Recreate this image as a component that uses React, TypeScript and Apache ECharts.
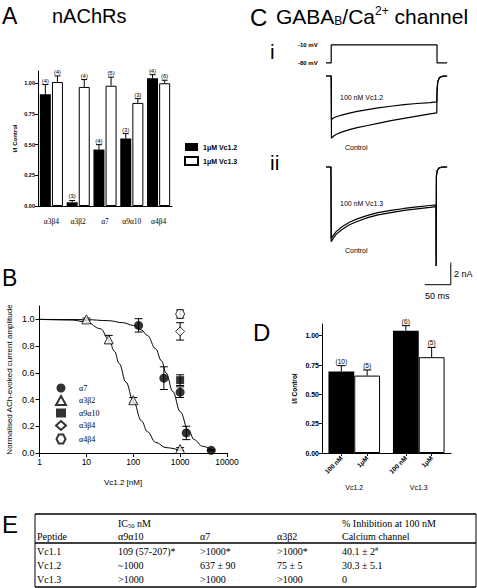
import React, { useEffect, useRef } from 'react';
import * as echarts from 'echarts';

// ---------- Panel A : nAChRs ----------
const aReceptors = ['α3β4', 'α3β2', 'α7', 'α9α10', 'α4β4'];
const aVc12Mean = [0.91, 0.03, 0.46, 0.55, 1.04];
const aVc12Sem = [0.08, 0.015, 0.04, 0.04, 0.03];
const aVc12N = [4, 3, 4, 3, 4];
const aVc13Mean = [1.01, 0.97, 0.98, 0.84, 1.0];
const aVc13Sem = [0.05, 0.06, 0.07, 0.035, 0.025];
const aVc13N = [4, 4, 5, 3, 6];
const aTicks = [0, 0.25, 0.5, 0.75, 1.0];

// ---------- Panel B : concentration-response ----------
const bA7Conc = [130, 450, 1000, 1350, 4600];
const bA7Resp = [0.955, 0.56, 0.455, 0.15, 0.02];
const bA7Err = [0.05, 0.085, 0.04, 0.05, 0.005];
const bA3b2Conc = [10, 30, 100, 1000];
const bA3b2Resp = [1.0, 0.85, 0.395, 0.03];
const bA3b2Err = [0.01, 0.03, 0.02, 0.01];
const bA9a10Conc = [1000];
const bA9a10Resp = [0.545];
const bA9a10Err = [0.04];
const bA3b4Conc = [1000];
const bA3b4Resp = [0.91];
const bA3b4Err = [0.065];
const bA4b4Conc = [1000];
const bA4b4Resp = [1.04];
const bA4b4Err = [0.03];
const bA7FitConc = [1, 10, 30, 60, 100, 150, 200, 300, 400, 500, 700, 1000, 1500, 2000, 3000, 5000];
const bA7FitResp = [1.0, 0.998, 0.99, 0.975, 0.955, 0.92, 0.88, 0.78, 0.69, 0.6, 0.46, 0.31, 0.17, 0.1, 0.05, 0.02];
const bA3b2FitConc = [1, 5, 10, 20, 30, 40, 50, 70, 100, 150, 200, 300, 500, 1000];
const bA3b2FitResp = [1.0, 0.995, 0.98, 0.93, 0.85, 0.76, 0.67, 0.53, 0.39, 0.24, 0.16, 0.08, 0.04, 0.02];
const bYTicks = [0, 0.2, 0.4, 0.6, 0.8, 1.0];

// ---------- Panel C : GABAB / Ca2+ channel currents ----------
const cStepTime = [0, 10, 10, 213.5, 213.5, 233];
const cStepVolt = [-80, -80, -10, -10, -80, -80];
const cTraceITime = [0, 10, 10.5, 15, 20, 30, 45, 60, 80, 100, 125, 150, 175, 200, 213, 213.5, 215, 218, 224, 233];
const cTraceIControl = [0, 0, -5.65, -5.45, -5.3, -5.1, -4.88, -4.7, -4.5, -4.3, -4.05, -3.85, -3.65, -3.45, -3.36, -1.5, -0.5, -0.15, -0.02, 0];
const cTraceIVc12 = [0, 0, -3.95, -3.8, -3.7, -3.55, -3.38, -3.22, -3.05, -2.9, -2.75, -2.6, -2.5, -2.42, -2.36, -1.2, -0.5, -0.15, -0.02, 0];
const cTraceIITime = [0, 9.5, 10, 15, 20, 30, 45, 60, 80, 100, 125, 150, 175, 200, 211.5, 211.8, 212.3, 214, 217, 222, 233];
const cTraceIIControl = [0, 0, -6.8, -6.4, -6.1, -5.7, -5.25, -4.95, -4.6, -4.35, -4.15, -3.95, -3.8, -3.67, -3.6, -9.0, -0.8, -0.3, -0.1, -0.02, 0];
const cTraceIIVc13 = [0, 0, -6.5, -6.15, -5.85, -5.45, -5.02, -4.72, -4.4, -4.15, -3.95, -3.77, -3.62, -3.5, -3.45, -9.0, -0.8, -0.3, -0.1, -0.02, 0];
const cScaleTime = [190, 240, 240];
const cScaleCurrent = [-10.7, -10.7, -8.7];
const cVoltLabels = [-80, -10];

// ---------- Panel D ----------
const dPeptides = ['Vc1.2', 'Vc1.3'];
const d100nMMean = [0.695, 1.043];
const d100nMSem = [0.05, 0.043];
const d100nMN = [10, 6];
const d1uMMean = [0.66, 0.817];
const d1uMSem = [0.048, 0.083];
const d1uMN = [5, 5];
const dDoseLabelPos = [0.3, 0.7, 1.3, 1.7];

// ---------- Panel E : table ----------
const ePeptides = ['Vc1.1', 'Vc1.2', 'Vc1.3'];
const eA9a10 = ['109 (57-207)*', '~1000', '>1000'];
const eA7 = ['>1000*', '637 ± 90', '>1000'];
const eA3b2 = ['>1000*', '75 ± 5', '>1000'];
const eCaInhib = ['{t|40.1 ± 2}{s|#}', '{t|30.3 ± 5.1}', '{t|0}'];

const SANS = 'Liberation Sans, Arial, sans-serif';
const SERIF = 'Liberation Serif, Times New Roman, serif';

function zip2(a: number[], b: number[]) {
  return a.map((v, i) => [v, b[i]]);
}

function barErr(means: number[], sems: number[], ns: number[]) {
  return means.map((m, i) => [i, m, sems[i], ns[i]]);
}

function upErrRender(offsetFn: (api: any) => number, capHalf: number, fontSize: number) {
  return (params: any, api: any) => {
    const ci = api.value(0);
    const v = api.value(1);
    const e = api.value(2);
    const n = api.value(3);
    const base = api.coord([ci, v]);
    const top = api.coord([ci, v + e]);
    const x = base[0] + offsetFn(api);
    return {
      type: 'group',
      children: [
        { type: 'line', shape: { x1: x, y1: base[1], x2: x, y2: top[1] }, style: { stroke: '#000', lineWidth: 1 } },
        { type: 'line', shape: { x1: x - capHalf, y1: top[1], x2: x + capHalf, y2: top[1] }, style: { stroke: '#000', lineWidth: 1 } },
        {
          type: 'text',
          style: {
            x, y: top[1] - 1, text: '(' + n + ')', align: 'center', verticalAlign: 'bottom',
            fontSize, fontFamily: SANS, fill: '#000',
          },
        },
      ],
    };
  };
}

function symErrRender(params: any, api: any) {
  const x = api.value(0);
  const v = api.value(1);
  const e = api.value(2);
  const p0 = api.coord([x, v - e]);
  const p1 = api.coord([x, v + e]);
  const cap = 4;
  return {
    type: 'group',
    children: [
      { type: 'line', shape: { x1: p0[0], y1: p0[1], x2: p1[0], y2: p1[1] }, style: { stroke: '#000', lineWidth: 1 } },
      { type: 'line', shape: { x1: p0[0] - cap, y1: p0[1], x2: p0[0] + cap, y2: p0[1] }, style: { stroke: '#000', lineWidth: 1 } },
      { type: 'line', shape: { x1: p1[0] - cap, y1: p1[1], x2: p1[0] + cap, y2: p1[1] }, style: { stroke: '#000', lineWidth: 1 } },
    ],
  };
}

const HEX = 'path://M25,0 L75,0 L100,50 L75,100 L25,100 L0,50 Z';

function buildOption() {
  const axisLine = { show: true, lineStyle: { color: '#000', width: 1 } };

  const grid = [
    { left: 38, top: 71, width: 134, height: 135 }, // 0 A
    { left: 39.5, top: 306, width: 187.5, height: 147 }, // 1 B
    { left: 326, top: 42.4, width: 124.8, height: 23.1 }, // 2 C voltage
    { left: 326, top: 70.5, width: 124.8, height: 77 }, // 3 C i
    { left: 326, top: 161.5, width: 124.8, height: 126.5 }, // 4 C ii
    { left: 322, top: 324, width: 129, height: 129 }, // 5 D
  ];

  const hiddenValueX = (gi: number) => ({ type: 'value', gridIndex: gi, min: 0, max: 240, show: false });

  const xAxis: any[] = [
    {
      type: 'category', gridIndex: 0, data: aReceptors, axisLine, axisTick: { show: false },
      axisLabel: { color: '#000', fontFamily: SERIF, fontSize: 7.5, margin: 11 },
    },
    {
      type: 'log', gridIndex: 1, logBase: 10, min: 1, max: 10000, axisLine,
      axisTick: { show: true, length: 4, lineStyle: { color: '#000' } },
      minorTick: { show: false }, splitLine: { show: false },
      axisLabel: { color: '#000', fontFamily: SANS, fontSize: 8.5, margin: 4, formatter: (v: number) => String(Math.round(v)) },
    },
    hiddenValueX(2),
    hiddenValueX(3),
    hiddenValueX(4),
    {
      type: 'category', gridIndex: 5, data: dPeptides, axisLine, axisTick: { show: false },
      axisLabel: { color: '#000', fontFamily: SANS, fontSize: 7, margin: 31 },
    },
    {
      type: 'value', gridIndex: 5, min: 0, max: 2, position: 'bottom',
      axisLine: { show: false }, splitLine: { show: false },
      axisTick: { show: true, length: 3, customValues: dDoseLabelPos, lineStyle: { color: '#000' } },
      axisLabel: {
        customValues: dDoseLabelPos, rotate: 45, color: '#000', fontFamily: SANS, fontSize: 6.5,
        fontWeight: 'bold', margin: 4,
        formatter: (v: number) => (Math.abs((v % 1) - 0.3) < 0.05 ? '100 nM' : '1μM'),
      },
    },
  ];

  const yAxis: any[] = [
    {
      type: 'value', gridIndex: 0, min: 0, max: 1.1, axisLine, splitLine: { show: false },
      axisTick: { show: true, length: 3, customValues: aTicks, lineStyle: { color: '#000' } },
      axisLabel: {
        customValues: aTicks, color: '#000', fontFamily: SANS, fontSize: 5.5, fontWeight: 'bold', margin: 3,
        formatter: (v: number) => v.toFixed(2),
      },
      name: 'I/I Control', nameLocation: 'middle', nameGap: 20,
      nameTextStyle: { color: '#000', fontFamily: SANS, fontSize: 6, fontWeight: 'bold' },
    },
    {
      type: 'value', gridIndex: 1, min: 0, max: 1.1, axisLine, splitLine: { show: false },
      axisTick: { show: true, length: 4, customValues: bYTicks, lineStyle: { color: '#000' } },
      axisLabel: {
        customValues: bYTicks, color: '#000', fontFamily: SANS, fontSize: 9, margin: 5,
        formatter: (v: number) => v.toFixed(1),
      },
      name: 'Normalised ACh-evoked current amplitude', nameLocation: 'middle', nameGap: 26,
      nameTextStyle: { color: '#000', fontFamily: SANS, fontSize: 8 },
    },
    {
      type: 'value', gridIndex: 2, min: -90, max: 0, axisLine: { show: false }, axisTick: { show: false },
      splitLine: { show: false },
      axisLabel: {
        customValues: cVoltLabels, color: '#000', fontFamily: SANS, fontSize: 6, fontWeight: 'bold',
        margin: 28, align: 'left', formatter: (v: number) => v + ' mV',
      },
    },
    { type: 'value', gridIndex: 3, min: -6.5, max: 0.5, show: false },
    { type: 'value', gridIndex: 4, min: -11, max: 0.5, show: false },
    {
      type: 'value', gridIndex: 5, min: 0, max: 1.1, axisLine, splitLine: { show: false },
      axisTick: { show: true, length: 3, customValues: aTicks, lineStyle: { color: '#000' } },
      axisLabel: {
        customValues: aTicks, color: '#000', fontFamily: SANS, fontSize: 7, fontWeight: 'bold', margin: 3,
        formatter: (v: number) => v.toFixed(2),
      },
      name: 'I/I Control', nameLocation: 'middle', nameGap: 24,
      nameTextStyle: { color: '#000', fontFamily: SANS, fontSize: 6.5, fontWeight: 'bold' },
    },
  ];

  const black = { color: '#000' };
  const white = { color: '#fff', borderColor: '#000', borderWidth: 1 };
  const traceStyle = { color: '#000', width: 1.2 };

  const series: any[] = [
    // Panel A bars
    {
      type: 'bar', name: '1μM Vc1.2', xAxisIndex: 0, yAxisIndex: 0, data: aVc12Mean,
      barWidth: 11, barGap: '10%', itemStyle: black,
    },
    {
      type: 'bar', name: '1μM Vc1.3', xAxisIndex: 0, yAxisIndex: 0, data: aVc13Mean,
      barWidth: 11, barGap: '10%', itemStyle: white,
    },
    {
      type: 'custom', xAxisIndex: 0, yAxisIndex: 0, z: 5, data: barErr(aVc12Mean, aVc12Sem, aVc12N),
      renderItem: upErrRender(() => -6.05, 3, 6),
    },
    {
      type: 'custom', xAxisIndex: 0, yAxisIndex: 0, z: 5, data: barErr(aVc13Mean, aVc13Sem, aVc13N),
      renderItem: upErrRender(() => 6.05, 3, 6),
    },
    // Panel B fits
    {
      type: 'line', xAxisIndex: 1, yAxisIndex: 1, data: zip2(bA7FitConc, bA7FitResp), showSymbol: false,
      smooth: 0.4, smoothMonotone: 'x', lineStyle: { color: '#000', width: 1 }, z: 1,
    },
    {
      type: 'line', xAxisIndex: 1, yAxisIndex: 1, data: zip2(bA3b2FitConc, bA3b2FitResp), showSymbol: false,
      smooth: 0.4, smoothMonotone: 'x', lineStyle: { color: '#000', width: 1 }, z: 1,
    },
    // Panel B error bars
    ...[
      [bA7Conc, bA7Resp, bA7Err], [bA3b2Conc, bA3b2Resp, bA3b2Err], [bA9a10Conc, bA9a10Resp, bA9a10Err],
      [bA3b4Conc, bA3b4Resp, bA3b4Err], [bA4b4Conc, bA4b4Resp, bA4b4Err],
    ].map(([c, r, e]) => ({
      type: 'custom', xAxisIndex: 1, yAxisIndex: 1, z: 2,
      data: c.map((x: number, i: number) => [x, r[i], e[i]]), renderItem: symErrRender,
    })),
    // Panel B points
    {
      type: 'scatter', name: 'α7', xAxisIndex: 1, yAxisIndex: 1, data: zip2(bA7Conc, bA7Resp),
      symbol: 'circle', symbolSize: 9, itemStyle: black, z: 3,
    },
    {
      type: 'scatter', name: 'α3β2', xAxisIndex: 1, yAxisIndex: 1, data: zip2(bA3b2Conc, bA3b2Resp),
      symbol: 'triangle', symbolSize: 9, itemStyle: white, z: 3,
    },
    {
      type: 'scatter', name: 'α9α10', xAxisIndex: 1, yAxisIndex: 1, data: zip2(bA9a10Conc, bA9a10Resp),
      symbol: 'rect', symbolSize: 8, itemStyle: black, z: 3,
    },
    {
      type: 'scatter', name: 'α3β4', xAxisIndex: 1, yAxisIndex: 1, data: zip2(bA3b4Conc, bA3b4Resp),
      symbol: 'diamond', symbolSize: 9, itemStyle: white, z: 3,
    },
    {
      type: 'scatter', name: 'α4β4', xAxisIndex: 1, yAxisIndex: 1, data: zip2(bA4b4Conc, bA4b4Resp),
      symbol: HEX, symbolSize: 9, itemStyle: white, z: 3,
    },
    // Panel C
    {
      type: 'line', xAxisIndex: 2, yAxisIndex: 2, data: zip2(cStepTime, cStepVolt), showSymbol: false,
      lineStyle: traceStyle,
    },
    {
      type: 'line', xAxisIndex: 3, yAxisIndex: 3, data: zip2(cTraceITime, cTraceIControl), showSymbol: false,
      lineStyle: traceStyle,
    },
    {
      type: 'line', xAxisIndex: 3, yAxisIndex: 3, data: zip2(cTraceITime, cTraceIVc12), showSymbol: false,
      lineStyle: traceStyle,
    },
    {
      type: 'line', xAxisIndex: 4, yAxisIndex: 4, data: zip2(cTraceIITime, cTraceIIControl), showSymbol: false,
      lineStyle: traceStyle,
    },
    {
      type: 'line', xAxisIndex: 4, yAxisIndex: 4, data: zip2(cTraceIITime, cTraceIIVc13), showSymbol: false,
      lineStyle: traceStyle,
    },
    {
      type: 'line', xAxisIndex: 4, yAxisIndex: 4, data: zip2(cScaleTime, cScaleCurrent), showSymbol: false,
      lineStyle: { color: '#000', width: 1 },
    },
    // Panel D
    {
      type: 'bar', name: '100 nM', xAxisIndex: 5, yAxisIndex: 5, data: d100nMMean, barWidth: '40%', barGap: 0,
      itemStyle: black,
    },
    {
      type: 'bar', name: '1 μM', xAxisIndex: 5, yAxisIndex: 5, data: d1uMMean, barWidth: '40%', barGap: 0,
      itemStyle: white,
    },
    {
      type: 'custom', xAxisIndex: 5, yAxisIndex: 5, z: 5, data: barErr(d100nMMean, d100nMSem, d100nMN),
      renderItem: upErrRender((api: any) => -0.2 * api.size([1, 0])[0], 4, 6.5),
    },
    {
      type: 'custom', xAxisIndex: 5, yAxisIndex: 5, z: 5, data: barErr(d1uMMean, d1uMSem, d1uMN),
      renderItem: upErrRender((api: any) => 0.2 * api.size([1, 0])[0], 4, 6.5),
    },
  ];

  const txt = (x: number, y: number, text: string, fontSize: number, extra: any = {}) => ({
    type: 'text', x, y, silent: true,
    style: { text, fontSize, fontFamily: SANS, fill: '#000', ...extra },
  });

  // table
  const colX = [37, 118, 200, 277, 342];
  const rowY = [551, 565, 579];
  const tStyle = { fontFamily: SERIF, verticalAlign: 'middle' };
  const tableEls: any[] = [
    { type: 'line', shape: { x1: 35, y1: 514, x2: 476, y2: 514 }, style: { stroke: '#000', lineWidth: 1.5 } },
    { type: 'line', shape: { x1: 35, y1: 543, x2: 476, y2: 543 }, style: { stroke: '#000', lineWidth: 1.5 } },
    { type: 'line', shape: { x1: 35, y1: 587, x2: 476, y2: 587 }, style: { stroke: '#000', lineWidth: 1.5 } },
    { type: 'line', shape: { x1: 35, y1: 514, x2: 35, y2: 587 }, style: { stroke: '#000', lineWidth: 1 } },
    { type: 'line', shape: { x1: 476, y1: 514, x2: 476, y2: 587 }, style: { stroke: '#000', lineWidth: 1 } },
    txt(colX[1], 523, '{t|IC}{s|50}{t| nM}', 10, {
      ...tStyle,
      rich: {
        t: { fontFamily: SERIF, fontSize: 10, lineHeight: 12, verticalAlign: 'middle' },
        s: { fontFamily: SERIF, fontSize: 6.5, lineHeight: 6, verticalAlign: 'bottom' },
      },
    }),
    txt(colX[4], 523, '% Inhibition at 100 nM', 10, tStyle),
    txt(colX[0], 536, 'Peptide', 10, tStyle),
    txt(colX[1], 536, 'α9α10', 10, tStyle),
    txt(colX[2], 536, 'α7', 10, tStyle),
    txt(colX[3], 536, 'α3β2', 10, tStyle),
    txt(colX[4], 536, 'Calcium channel', 10, tStyle),
  ];
  ePeptides.forEach((p, i) => {
    tableEls.push(txt(colX[0], rowY[i], p, 10, tStyle));
    tableEls.push(txt(colX[1], rowY[i], eA9a10[i], 10, tStyle));
    tableEls.push(txt(colX[2], rowY[i], eA7[i], 10, tStyle));
    tableEls.push(txt(colX[3], rowY[i], eA3b2[i], 10, tStyle));
    tableEls.push(txt(colX[4], rowY[i], eCaInhib[i], 10, {
      ...tStyle,
      rich: {
        t: { fontFamily: SERIF, fontSize: 10, lineHeight: 12, verticalAlign: 'middle' },
        s: { fontFamily: SERIF, fontSize: 6.5, lineHeight: 6, verticalAlign: 'top' },
      },
    }));
  });

  const graphic: any[] = [
    txt(2, 4, 'A', 23),
    txt(52, 6, 'nAChRs', 20),
    txt(2, 266, 'B', 23),
    txt(250, 5, 'C', 24),
    txt(276, 5, '{m|GABA}{sub|B}{m|/Ca}{sup|2+}{m| channel}', 20, {
      rich: {
        m: { fontFamily: SANS, fontSize: 21, lineHeight: 22, verticalAlign: 'middle' },
        sub: { fontFamily: SANS, fontSize: 12, lineHeight: 8, verticalAlign: 'bottom' },
        sup: { fontFamily: SANS, fontSize: 12, lineHeight: 12, verticalAlign: 'top' },
      },
    }),
    txt(270, 41, 'i', 21),
    txt(270, 152, 'ii', 21),
    txt(340, 97, '100 nM Vc1.2', 7, { verticalAlign: 'middle' }),
    txt(345, 147, 'Control', 7, { verticalAlign: 'middle' }),
    txt(340, 203, '100 nM Vc1.3', 7, { verticalAlign: 'middle' }),
    txt(345, 250, 'Control', 7, { verticalAlign: 'middle' }),
    txt(454, 274, '2 nA', 9, { verticalAlign: 'middle' }),
    txt(425, 296, '50 ms', 9, { verticalAlign: 'middle' }),
    txt(253, 320, 'D', 24),
    txt(123, 482, 'Vc1.2 [nM]', 8, { align: 'center', verticalAlign: 'middle' }),
    txt(2, 512, 'E', 24),
    ...tableEls,
  ];

  return {
    animation: false,
    backgroundColor: '#fff',
    grid,
    xAxis,
    yAxis,
    series,
    graphic,
    legend: [
      {
        data: [
          { name: '1μM Vc1.2', icon: 'rect' },
          { name: '1μM Vc1.3', icon: 'rect' },
        ],
        orient: 'vertical', left: 179, top: 138, itemWidth: 13, itemHeight: 8, itemGap: 5,
        selectedMode: false,
        textStyle: { color: '#000', fontFamily: SANS, fontSize: 7, fontWeight: 'bold' },
      },
      {
        data: ['α7', 'α3β2', 'α9α10', 'α3β4', 'α4β4'],
        orient: 'vertical', left: 50, top: 378.5, itemWidth: 10, itemHeight: 9, itemGap: 2.5,
        selectedMode: false,
        textStyle: { color: '#000', fontFamily: SERIF, fontSize: 8, padding: [0, 0, 0, 8] },
      },
    ],
  };
}

export default function App() {
  const ref = useRef<HTMLDivElement>(null);
  useEffect(() => {
    const chart = echarts.init(ref.current!, null, { renderer: 'svg' });
    chart.setOption(buildOption() as any);
    return () => chart.dispose();
  }, []);
  return (
    <div
      ref={ref}
      style={{ position: 'absolute', left: 0, top: 0, width: 477, height: 588, background: '#fff' }}
    />
  );
}
